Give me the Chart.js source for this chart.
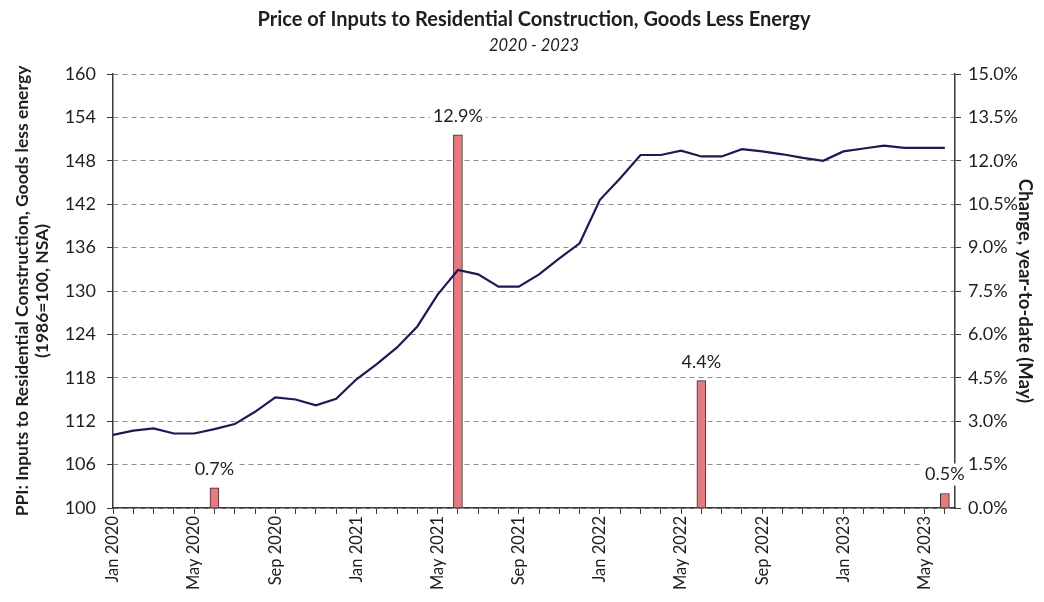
<!DOCTYPE html>
<html>
<head>
<meta charset="utf-8">
<script src="https://cdn.jsdelivr.net/npm/chart.js@4.4.1/dist/chart.umd.min.js"></script>
<style>
  html, body { margin: 0; padding: 0; background: #ffffff; }
  #wrap { width: 1044px; height: 602px; }
</style>
</head>
<body>
<div id="wrap"><canvas id="chart" width="1044" height="602"></canvas></div>
<script>
// Monthly index values, Jan 2020 - Jun 2023
const months = [
  'Jan 2020','Feb 2020','Mar 2020','Apr 2020','May 2020','Jun 2020','Jul 2020','Aug 2020','Sep 2020','Oct 2020','Nov 2020','Dec 2020',
  'Jan 2021','Feb 2021','Mar 2021','Apr 2021','May 2021','Jun 2021','Jul 2021','Aug 2021','Sep 2021','Oct 2021','Nov 2021','Dec 2021',
  'Jan 2022','Feb 2022','Mar 2022','Apr 2022','May 2022','Jun 2022','Jul 2022','Aug 2022','Sep 2022','Oct 2022','Nov 2022','Dec 2022',
  'Jan 2023','Feb 2023','Mar 2023','Apr 2023','May 2023','Jun 2023'
];
const ppi = [
  110.1, 110.7, 111.0, 110.3, 110.3, 110.9, 111.6, 113.3, 115.3, 115.0, 114.2, 115.1,
  117.8, 119.9, 122.2, 125.1, 129.5, 132.9, 132.3, 130.6, 130.6, 132.3, 134.5, 136.6,
  142.6, 145.6, 148.8, 148.8, 149.4, 148.6, 148.6, 149.6, 149.3, 148.9, 148.4, 148.0,
  149.3, 149.7, 150.1, 149.8, 149.8, 149.8
];
// Year-to-date change through May, shown at the month following each May
const ytdMonths = ['Jun 2020', 'Jun 2021', 'Jun 2022', 'Jun 2023'];
const ytdChange = [0.7, 12.9, 4.4, 0.5];

const leftTicks = { min: 100, max: 160, step: 6 };
const rightTicks = { min: 0, max: 15, step: 1.5 };

const FONT = 'Lato, "Open Sans", "DejaVu Sans", sans-serif';
const INK = '#1e1e1e';
const AXIS = '#3a3a3a';

const linePoints = ppi.map((v, i) => ({ x: i, y: v }));
const barPoints = ytdMonths.map((m, i) => ({ x: months.indexOf(m), y: ytdChange[i] }));

const barLabels = {
  id: 'barLabels',
  afterDraw(chart) {
    const ctx = chart.ctx;
    const meta = chart.getDatasetMeta(1);
    ctx.save();
    ctx.font = '18px ' + FONT;
    ctx.textAlign = 'center';
    ctx.textBaseline = 'middle';
    meta.data.forEach((bar, i) => {
      const txt = ytdChange[i].toFixed(1) + '%';
      const w = ctx.measureText(txt).width;
      const cy = bar.y - 19;
      ctx.fillStyle = '#ffffff';
      ctx.fillRect(bar.x - w / 2 - 3, cy - 11, w + 6, 22);
      ctx.fillStyle = INK;
      ctx.fillText(txt, bar.x, cy);
    });
    ctx.restore();
  }
};

new Chart(document.getElementById('chart'), {
  data: {
    datasets: [
      {
        type: 'line',
        label: 'PPI',
        data: linePoints,
        xAxisID: 'x',
        yAxisID: 'y',
        borderColor: '#1b1b52',
        borderWidth: 2.2,
        pointRadius: 0,
        tension: 0,
        order: 0
      },
      {
        type: 'bar',
        label: 'YTD change',
        data: barPoints,
        xAxisID: 'x',
        yAxisID: 'y2',
        backgroundColor: '#e57a80',
        borderColor: '#3b2a2a',
        borderWidth: 1,
        barThickness: 9,
        order: 1
      }
    ]
  },
  options: {
    responsive: false,
    animation: false,
    layout: { padding: { top: 0, left: 24, right: 0, bottom: 0 } },
    plugins: {
      legend: { display: false },
      tooltip: { enabled: false },
      title: {
        display: true,
        text: 'Price of Inputs to Residential Construction, Goods Less Energy',
        color: INK,
        font: { family: FONT, size: 20, weight: 'bold', lineHeight: 1.2 },
        padding: { top: 8, bottom: 4 }
      },
      subtitle: {
        display: true,
        text: '2020 - 2023',
        color: INK,
        font: { family: FONT, size: 16.5, style: 'italic', lineHeight: 1.2 },
        padding: { top: 0, bottom: 18.2 }
      }
    },
    scales: {
      x: {
        type: 'linear',
        position: 'bottom',
        offset: false,
        min: 0,
        max: months.length - 0.5,
        afterFit(scale) { scale.height = 94; },
        ticks: {
          stepSize: 1,
          autoSkip: false,
          includeBounds: false,
          minRotation: 90,
          maxRotation: 90,
          padding: 2,
          color: INK,
          font: { family: FONT, size: 16.5 },
          callback(value) {
            return Number.isInteger(value) && value % 4 === 0 ? months[value] : '';
          }
        },
        grid: { offset: false, drawOnChartArea: false, drawTicks: true, tickLength: 6, tickColor: AXIS, tickWidth: 1 },
        border: { color: AXIS, width: 1.5 }
      },
      y: {
        position: 'left',
        min: leftTicks.min,
        max: leftTicks.max,
        afterFit(scale) { scale.width = 89; },
        ticks: {
          stepSize: leftTicks.step,
          padding: 11,
          color: INK,
          font: { family: FONT, size: 18 }
        },
        grid: { color: '#8e8e8e', lineWidth: 1, tickLength: 6, tickColor: AXIS, tickWidth: 1 },
        border: { color: AXIS, width: 1.5, dash: [5, 4] },
        title: {
          display: true,
          text: ['PPI: Inputs to Residential Construction, Goods less energy', '(1986=100, NSA)'],
          color: INK,
          font: { family: FONT, size: 17.5, weight: 'bold', lineHeight: 1.15 },
          padding: { top: -12, bottom: 0 }
        }
      },
      y2: {
        position: 'right',
        min: rightTicks.min,
        max: rightTicks.max,
        afterFit(scale) { scale.width = 89; },
        ticks: {
          stepSize: rightTicks.step,
          padding: 7,
          color: INK,
          font: { family: FONT, size: 18 },
          callback(value) { return value.toFixed(1) + '%'; }
        },
        grid: { drawOnChartArea: false, tickLength: 6, tickColor: AXIS, tickWidth: 1 },
        border: { color: AXIS, width: 1.5 },
        title: {
          display: true,
          text: 'Change, year-to-date (May)',
          color: INK,
          font: { family: FONT, size: 18.5, weight: 'bold', lineHeight: 1.2 },
          padding: { top: 8, bottom: 0 }
        }
      }
    }
  },
  plugins: [barLabels]
});
</script>
</body>
</html>
